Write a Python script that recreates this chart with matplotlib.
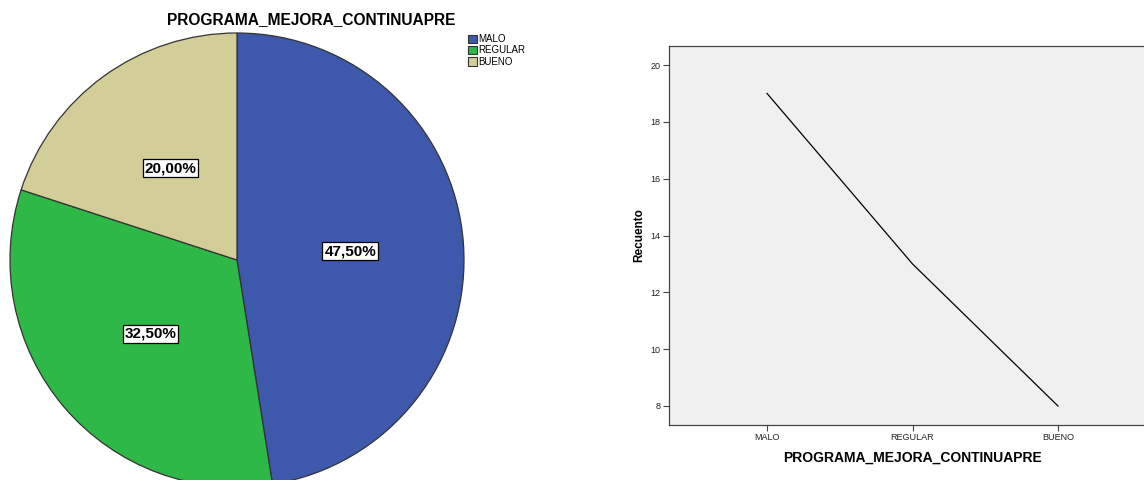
import matplotlib
matplotlib.use("Agg")
import matplotlib.pyplot as plt
from matplotlib.patches import Patch

plt.rcParams['font.family'] = ['Liberation Sans', 'DejaVu Sans']

categories = ["MALO", "REGULAR", "BUENO"]
counts = [19, 13, 8]
colors = ["#3E58AC", "#2EB848", "#D3CE97"]
title = "PROGRAMA_MEJORA_CONTINUAPRE"

W, H = 1144, 480
fig = plt.figure(figsize=(W / 100, H / 100), dpi=100)
fig.patch.set_facecolor("white")

def px_axes(x0, y0, x1, y1):
    # axes from pixel box (top-left origin)
    return fig.add_axes([x0 / W, 1 - y1 / H, (x1 - x0) / W, (y1 - y0) / H])

# ---- Pie chart ----
cx, cy, r = 237, 260, 227
axp = px_axes(cx - r, cy - r, cx + r, cy + r)
wedges, texts, autotexts = axp.pie(
    counts, colors=colors, startangle=90, counterclock=False,
    autopct=lambda p: f"{p:.2f}%".replace(".", ","), pctdistance=0.5,
    wedgeprops=dict(edgecolor="#333333", linewidth=0.9),
)
for t in autotexts:
    t.set_fontsize(11)
    t.set_fontweight("bold")
    t.set_color("black")
    t.set_bbox(dict(facecolor="white", edgecolor="black", boxstyle="square,pad=0.12", linewidth=0.9))
axp.set_xlim(-1, 1)
axp.set_ylim(-1, 1)
axp.set_aspect("equal")
axp.axis("off")

fig.text(311 / W, 1 - 20 / H, title, ha="center", va="center",
         fontsize=11.2, fontweight="bold")

handles = [Patch(facecolor=c, edgecolor="#333333", linewidth=0.8) for c in colors]
fig.legend(handles, categories, loc="upper left", bbox_to_anchor=(466 / W, 1 - 32 / H),
           frameon=False, fontsize=7, handlelength=0.9, handleheight=0.9,
           handletextpad=0.2, labelspacing=0.15, borderpad=0.2, borderaxespad=0)

# ---- Line chart ----
axl = px_axes(669, 46, 1156, 425)
axl.set_facecolor("#F0F0F0")
xs = list(range(len(categories)))
axl.plot(xs, counts, color="black", linewidth=0.9)
axl.set_xlim(-0.674, 2.674)
axl.set_ylim(7.33, 20.67)
axl.set_xticks(xs)
axl.set_xticklabels(categories)
axl.set_yticks([8, 10, 12, 14, 16, 18, 20])
axl.tick_params(axis="both", labelsize=6.5, length=4, width=0.8, color="#444444", labelcolor="#222222", pad=2)
for s in axl.spines.values():
    s.set_color("#444444")
    s.set_linewidth(0.9)
axl.set_ylabel("Recuento", fontsize=8.5, fontweight="bold", labelpad=4)
axl.set_xlabel(title, fontsize=10, fontweight="bold", labelpad=6)

fig.savefig("out.png", dpi=100, facecolor="white")
